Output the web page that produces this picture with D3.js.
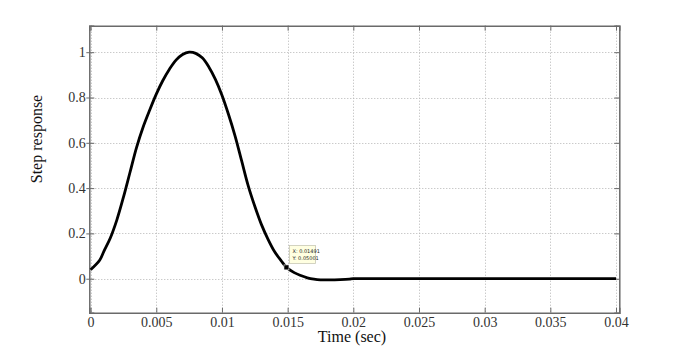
<!DOCTYPE html>
<html>
<head>
<meta charset="utf-8">
<script src="https://cdn.jsdelivr.net/npm/d3@7"></script>
<style>
  body { margin: 0; background: #fff; }
  svg { display: block; }
</style>
</head>
<body>
<svg></svg>
<script>
// step response samples
let time = [0, 0.0007, 0.001, 0.0015, 0.002, 0.0025, 0.003, 0.0035, 0.004, 0.0045,
            0.005, 0.0055, 0.006, 0.0065, 0.007, 0.0075, 0.008, 0.0085, 0.009, 0.0095,
            0.010, 0.0105, 0.011, 0.0115, 0.012, 0.0125, 0.013, 0.0135, 0.014, 0.0145,
            0.01491, 0.0155, 0.016, 0.0165, 0.017, 0.0175, 0.018, 0.019, 0.0197, 0.02,
            0.025, 0.03, 0.035, 0.04]
let response = [0.04, 0.083, 0.12, 0.18, 0.26, 0.36, 0.47, 0.58, 0.67, 0.745,
                0.815, 0.875, 0.925, 0.965, 0.99, 1.0, 0.995, 0.975, 0.935, 0.88,
                0.81, 0.725, 0.63, 0.52, 0.41, 0.32, 0.24, 0.175, 0.12, 0.08,
                0.05001, 0.027, 0.014, 0.004, -0.002, -0.005, -0.005, -0.004, -0.002, 0,
                0, 0, 0, 0]
let xTicks = [0, 0.005, 0.01, 0.015, 0.02, 0.025, 0.03, 0.035, 0.04]
let xTickLabels = ['0', '0.005', '0.01', '0.015', '0.02', '0.025', '0.03', '0.035', '0.04']
let yTicks = [0, 0.2, 0.4, 0.6, 0.8, 1]
let yTickLabels = ['0', '0.2', '0.4', '0.6', '0.8', '1']
let tip = [0.01491, 0.05001]

let width = 685
let height = 352
let plotLeft = 89.3, plotRight = 619.3, plotTop = 25.7, plotBottom = 312.7

let svg = d3.select('svg')
            .attr('width', width)
            .attr('height', height)

svg.append('rect').attr('width', width).attr('height', height).attr('fill', '#fff')

let x = d3.scaleLinear().domain([-0.0001, 0.04025]).range([plotLeft, plotRight])
let y = d3.scaleLinear().domain([-0.15, 1.117]).range([plotBottom, plotTop])

let serif = 'Liberation Serif, DejaVu Serif, serif'

// dotted grid
let grid = svg.append('g')
    .attr('stroke', '#b4b4b4')
    .attr('stroke-width', 1)
    .attr('stroke-dasharray', '1,2')

grid.selectAll('.gx')
    .data(xTicks)
    .enter()
    .append('line')
    .attr('x1', d => Math.round(x(d)) + 0.5)
    .attr('x2', d => Math.round(x(d)) + 0.5)
    .attr('y1', plotTop)
    .attr('y2', plotBottom)

grid.selectAll('.gy')
    .data(yTicks)
    .enter()
    .append('line')
    .attr('x1', plotLeft)
    .attr('x2', plotRight)
    .attr('y1', d => Math.round(y(d)) + 0.5)
    .attr('y2', d => Math.round(y(d)) + 0.5)

// axes with inner ticks on all four sides
let axisColor = '#6a6a6a'
let bottomAxis = d3.axisBottom(x).tickValues(xTicks).tickSize(-5).tickFormat((d, i) => xTickLabels[i]).tickPadding(4)
let topAxis = d3.axisTop(x).tickValues(xTicks).tickSize(-5).tickFormat('')
let leftAxis = d3.axisLeft(y).tickValues(yTicks).tickSize(-5).tickFormat((d, i) => yTickLabels[i]).tickPadding(3.5)
let rightAxis = d3.axisRight(y).tickValues(yTicks).tickSize(-5).tickFormat('')

let gb = svg.append('g').attr('transform', `translate(0,${plotBottom})`).call(bottomAxis)
let gt = svg.append('g').attr('transform', `translate(0,${plotTop})`).call(topAxis)
let gl = svg.append('g').attr('transform', `translate(${plotLeft},0)`).call(leftAxis)
let gr = svg.append('g').attr('transform', `translate(${plotRight},0)`).call(rightAxis)

for (let ax of [gb, gt, gl, gr]) {
    ax.attr('font-family', serif).attr('font-size', 14)
    ax.select('.domain').attr('stroke', axisColor).attr('stroke-width', 1.5)
    ax.selectAll('.tick line').attr('stroke', axisColor)
    ax.selectAll('.tick text')
        .attr('fill', '#333')
        .attr('font-family', serif)
        .attr('font-size', 14)
}
// small outward ticks beside the y labels
gl.selectAll('.tick').append('line')
    .attr('x1', -3).attr('x2', 0)
    .attr('stroke', axisColor)

// curve
let line = d3.line()
    .x((d, i) => x(time[i]))
    .y(d => y(d))
    .curve(d3.curveCatmullRom.alpha(0.5))

svg.append('path')
    .attr('d', line(response))
    .attr('fill', 'none')
    .attr('stroke', '#000')
    .attr('stroke-width', 2.8)
    .attr('stroke-linejoin', 'round')

// data tip
let px = x(tip[0]), py = y(tip[1])
let tipG = svg.append('g').attr('transform', `translate(${px + 3},${py - 22})`)
tipG.append('rect')
    .attr('width', 26)
    .attr('height', 18)
    .attr('fill', '#ffffe1')
    .attr('stroke', '#c8c8b4')
    .attr('stroke-width', 0.8)
tipG.append('text')
    .attr('x', 3).attr('y', 7.5)
    .text('X: ' + tip[0])
    .attr('font-family', 'DejaVu Sans, sans-serif')
    .attr('font-size', 5)
    .attr('fill', '#222')
tipG.append('text')
    .attr('x', 3).attr('y', 14.5)
    .text('Y: ' + tip[1])
    .attr('font-family', 'DejaVu Sans, sans-serif')
    .attr('font-size', 5)
    .attr('fill', '#222')

svg.append('rect')
    .attr('x', px - 2.5).attr('y', py - 2.5)
    .attr('width', 5).attr('height', 5)
    .attr('fill', '#000')
    .attr('stroke', '#fff')
    .attr('stroke-width', 0.6)

// axis titles
svg.append('text')
    .attr('x', 352)
    .attr('y', 342)
    .attr('text-anchor', 'middle')
    .attr('font-family', serif)
    .attr('font-size', 16)
    .attr('fill', '#111')
    .text('Time (sec)')

svg.append('text')
    .attr('transform', 'translate(42,139) rotate(-90)')
    .attr('text-anchor', 'middle')
    .attr('font-family', serif)
    .attr('font-size', 16)
    .attr('fill', '#111')
    .text('Step response')
</script>
</body>
</html>
